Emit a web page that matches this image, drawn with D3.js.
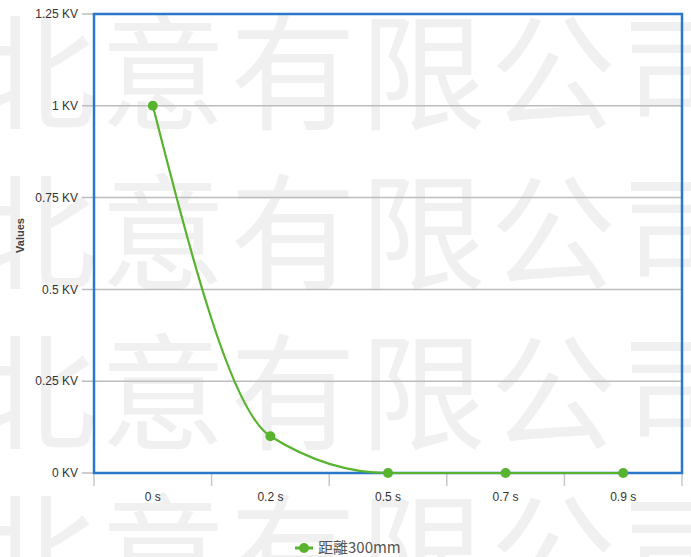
<!DOCTYPE html>
<html>
<head>
<meta charset="utf-8">
<script src="https://cdn.jsdelivr.net/npm/d3@7"></script>
<style>
  body { margin: 0; background: #fff; }
  svg { display: block; }
</style>
</head>
<body>
<script>
const categories = ['0 s', '0.2 s', '0.5 s', '0.7 s', '0.9 s']
const values = [1, 0.1, 0, 0, 0]
const yTicks = [0, 0.25, 0.5, 0.75, 1, 1.25]
const seriesName = '距離300mm'
const watermarkText = ['北', '意', '有', '限', '公', '司']

const W = 691
const H = 557
const margin = { top: 14, right: 9, bottom: 84, left: 94 }
const innerW = W - margin.left - margin.right
const innerH = H - margin.top - margin.bottom

const green = '#58b32f'
const blue = '#2b77c9'
const labelFont = '"Liberation Sans Narrow", "Arial Narrow", "Liberation Sans", sans-serif'

const svg = d3.select('body').append('svg')
  .attr('width', W)
  .attr('height', H)

// watermark in the background
const wm = svg.append('g')
  .attr('font-family', '"Noto Sans CJK SC", sans-serif')
  .attr('font-size', 126)
  .attr('font-weight', 400)
  .attr('fill', '#f0f0f0')
  .attr('text-anchor', 'middle')
d3.range(4).forEach(function (r) {
  wm.selectAll(null)
    .data(watermarkText)
    .enter().append('text')
      .attr('x', (d, i) => 33 + i * 130)
      .attr('y', 120 + r * 160)
      .text(d => d)
})

const x = d3.scaleBand().domain(categories).range([0, innerW])
const y = d3.scaleLinear().domain([0, 1.25]).range([innerH, 0])

const g = svg.append('g')
  .attr('transform', 'translate(' + margin.left + ',' + margin.top + ')')

// grid lines
g.selectAll('.grid')
  .data(yTicks)
  .enter().append('line')
    .attr('class', 'grid')
    .attr('x1', -12)
    .attr('x2', innerW)
    .attr('y1', d => y(d))
    .attr('y2', d => y(d))
    .attr('stroke', '#bdbdbd')
    .attr('stroke-width', 1.5)

// y labels
g.selectAll('.ylab')
  .data(yTicks)
  .enter().append('text')
    .attr('class', 'ylab')
    .attr('x', -16)
    .attr('y', d => y(d))
    .attr('dy', '0.35em')
    .attr('text-anchor', 'end')
    .attr('font-family', labelFont)
    .attr('font-size', 12)
    .attr('fill', '#333')
    .text(d => d + ' KV')

// x tick marks at band edges
const edges = categories.map(c => x(c)).concat([innerW])
g.selectAll('.xtick')
  .data(edges)
  .enter().append('line')
    .attr('x1', d => d)
    .attr('x2', d => d)
    .attr('y1', innerH)
    .attr('y2', innerH + 13)
    .attr('stroke', '#c8c8c8')
    .attr('stroke-width', 1.5)

g.selectAll('.xlab')
  .data(categories)
  .enter().append('text')
    .attr('x', d => x(d) + x.bandwidth() / 2)
    .attr('y', innerH + 28)
    .attr('text-anchor', 'middle')
    .attr('font-family', labelFont)
    .attr('font-size', 12)
    .attr('fill', '#333')
    .text(d => d)

// frame
g.append('rect')
  .attr('x', 0)
  .attr('y', 0)
  .attr('width', innerW)
  .attr('height', innerH)
  .attr('fill', 'none')
  .attr('stroke', blue)
  .attr('stroke-width', 2.5)

// axis title
svg.append('text')
  .attr('transform', 'translate(24,' + (margin.top + innerH / 2 - 8) + ') rotate(-90)')
  .attr('text-anchor', 'middle')
  .attr('font-family', '"Liberation Sans", sans-serif')
  .attr('font-size', 11)
  .attr('font-weight', 'bold')
  .attr('fill', '#444')
  .text('Values')

// series
const line = d3.line()
  .x((d, i) => x(categories[i]) + x.bandwidth() / 2)
  .y(d => y(d))
  .curve(d3.curveMonotoneX)

g.append('path')
  .datum(values)
  .attr('d', line)
  .attr('fill', 'none')
  .attr('stroke', green)
  .attr('stroke-width', 2.2)

g.selectAll('.pt')
  .data(values)
  .enter().append('circle')
    .attr('cx', (d, i) => x(categories[i]) + x.bandwidth() / 2)
    .attr('cy', d => y(d))
    .attr('r', 5)
    .attr('fill', green)

// legend
const lg = svg.append('g').attr('transform', 'translate(304,548)')
lg.append('line')
  .attr('x1', -9).attr('x2', 9)
  .attr('stroke', green)
  .attr('stroke-width', 3)
lg.append('circle')
  .attr('r', 5)
  .attr('fill', green)
lg.append('text')
  .attr('x', 14)
  .attr('dy', '0.35em')
  .attr('font-family', '"Noto Sans CJK TC", "Liberation Sans Narrow", sans-serif')
  .attr('font-size', 15)
  .attr('fill', '#555')
  .text(seriesName)
</script>
</body>
</html>
